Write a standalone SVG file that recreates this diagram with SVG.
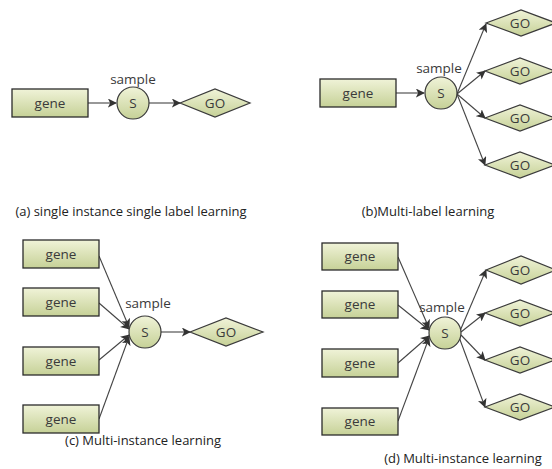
<svg xmlns="http://www.w3.org/2000/svg" width="552" height="469" viewBox="0 0 552 469">
<style>
.box{fill:url(#g);stroke:#2b2b2b;stroke-width:1.3}
.nd{fill:url(#g);stroke:#3a3a3a;stroke-width:1.2}
.t{font-family:"Open Sans","Liberation Sans",sans-serif;font-size:13.5px;fill:#3a3a3a;text-anchor:middle}
.cap{font-family:"Open Sans","Liberation Sans",sans-serif;font-size:13px;fill:#222;text-anchor:middle}
.c{stroke:#444;stroke-width:1.1;fill:none;marker-end:url(#ah)}
</style>
<defs>
<linearGradient id="g" x1="0" y1="0" x2="0" y2="1">
<stop offset="0" stop-color="#f0f3d8"/>
<stop offset="1" stop-color="#c6d197"/>
</linearGradient>
<marker id="ah" viewBox="0 0 10 10" refX="9" refY="5" markerWidth="9" markerHeight="9" markerUnits="userSpaceOnUse" orient="auto">
<path d="M0,0 L10,5 L0,10 L2.5,5 z" fill="#333"/>
</marker>
</defs>
<rect width="552" height="469" fill="#fff"/>

<g id="connectors">
<line class="c" x1="88" y1="103" x2="116" y2="103"/>
<line class="c" x1="149" y1="103" x2="180" y2="103"/>
<line class="c" x1="396" y1="93" x2="424" y2="93"/>
<line class="c" x1="457" y1="94" x2="486" y2="24"/>
<line class="c" x1="457" y1="94" x2="485" y2="71"/>
<line class="c" x1="457" y1="94" x2="485" y2="118"/>
<line class="c" x1="457" y1="94" x2="485" y2="165"/>
<line class="c" x1="99" y1="256" x2="129" y2="327"/>
<line class="c" x1="99" y1="303" x2="129" y2="329"/>
<line class="c" x1="99" y1="360" x2="129" y2="335"/>
<line class="c" x1="99" y1="419" x2="129" y2="337"/>
<line class="c" x1="161" y1="332" x2="190" y2="332"/>
<line class="c" x1="398" y1="257" x2="429" y2="328"/>
<line class="c" x1="398" y1="305" x2="429" y2="330"/>
<line class="c" x1="398" y1="363" x2="429" y2="336"/>
<line class="c" x1="398" y1="421" x2="429" y2="338"/>
<line class="c" x1="460" y1="331" x2="486" y2="270"/>
<line class="c" x1="461" y1="332" x2="485" y2="313"/>
<line class="c" x1="461" y1="335" x2="485" y2="360"/>
<line class="c" x1="459" y1="337" x2="485" y2="407"/>
</g>

<g id="a-gene"><rect class="box" x="12" y="89" width="76" height="28"/><text class="t" x="50" y="108">gene</text></g>
<g id="a-sample"><circle class="nd" cx="133" cy="103" r="16"/><text class="t" x="133" y="108">S</text><text class="t" x="133" y="84">sample</text></g>
<g id="a-go"><polygon class="nd" points="180,103 215,89 250,103 215,117"/><text class="t" x="215" y="108">GO</text></g>

<g id="b-gene"><rect class="box" x="320" y="79" width="76" height="28"/><text class="t" x="358" y="98">gene</text></g>
<g id="b-sample"><circle class="nd" cx="441" cy="93" r="16"/><text class="t" x="441" y="98">S</text><text class="t" x="439" y="73">sample</text></g>
<g id="b-go1"><polygon class="nd" points="486,23 521,10 556,23 521,36"/><text class="t" x="520" y="28">GO</text></g>
<g id="b-go2"><polygon class="nd" points="485,71 520,58 555,71 520,84"/><text class="t" x="520" y="76">GO</text></g>
<g id="b-go3"><polygon class="nd" points="485,118 520,105 555,118 520,131"/><text class="t" x="520" y="123">GO</text></g>
<g id="b-go4"><polygon class="nd" points="485,165 520,152 555,165 520,178"/><text class="t" x="520" y="170">GO</text></g>

<g id="c-gene1"><rect class="box" x="23" y="240" width="76" height="28"/><text class="t" x="61" y="259">gene</text></g>
<g id="c-gene2"><rect class="box" x="23" y="288" width="76" height="28"/><text class="t" x="61" y="307">gene</text></g>
<g id="c-gene3"><rect class="box" x="23" y="347" width="76" height="28"/><text class="t" x="61" y="366">gene</text></g>
<g id="c-gene4"><rect class="box" x="23" y="405" width="76" height="28"/><text class="t" x="61" y="424">gene</text></g>
<g id="c-sample"><circle class="nd" cx="145" cy="332" r="16"/><text class="t" x="145" y="337">S</text><text class="t" x="148" y="308">sample</text></g>
<g id="c-go"><polygon class="nd" points="190,332 226,318 263,332 226,346"/><text class="t" x="226" y="337">GO</text></g>

<g id="d-gene1"><rect class="box" x="322" y="243" width="76" height="27"/><text class="t" x="360" y="261">gene</text></g>
<g id="d-gene2"><rect class="box" x="322" y="291" width="76" height="27"/><text class="t" x="360" y="309">gene</text></g>
<g id="d-gene3"><rect class="box" x="322" y="349" width="76" height="28"/><text class="t" x="360" y="368">gene</text></g>
<g id="d-gene4"><rect class="box" x="322" y="408" width="76" height="27"/><text class="t" x="360" y="426">gene</text></g>
<g id="d-sample"><circle class="nd" cx="445" cy="333" r="16"/><text class="t" x="445" y="338">S</text><text class="t" x="442" y="312">sample</text></g>
<g id="d-go1"><polygon class="nd" points="486,270 521,256 556,270 521,284"/><text class="t" x="520" y="275">GO</text></g>
<g id="d-go2"><polygon class="nd" points="485,313 520,300 555,313 520,326"/><text class="t" x="520" y="318">GO</text></g>
<g id="d-go3"><polygon class="nd" points="485,360 520,347 555,360 520,373"/><text class="t" x="520" y="365">GO</text></g>
<g id="d-go4"><polygon class="nd" points="485,407 520,394 555,407 520,420"/><text class="t" x="520" y="412">GO</text></g>

<text class="cap" x="131" y="216">(a) single instance single label learning</text>
<text class="cap" x="428" y="216">(b)Multi-label learning</text>
<text class="cap" x="143" y="445">(c) Multi-instance learning</text>
<text class="cap" x="463" y="463">(d) Multi-instance learning</text>
</svg>
